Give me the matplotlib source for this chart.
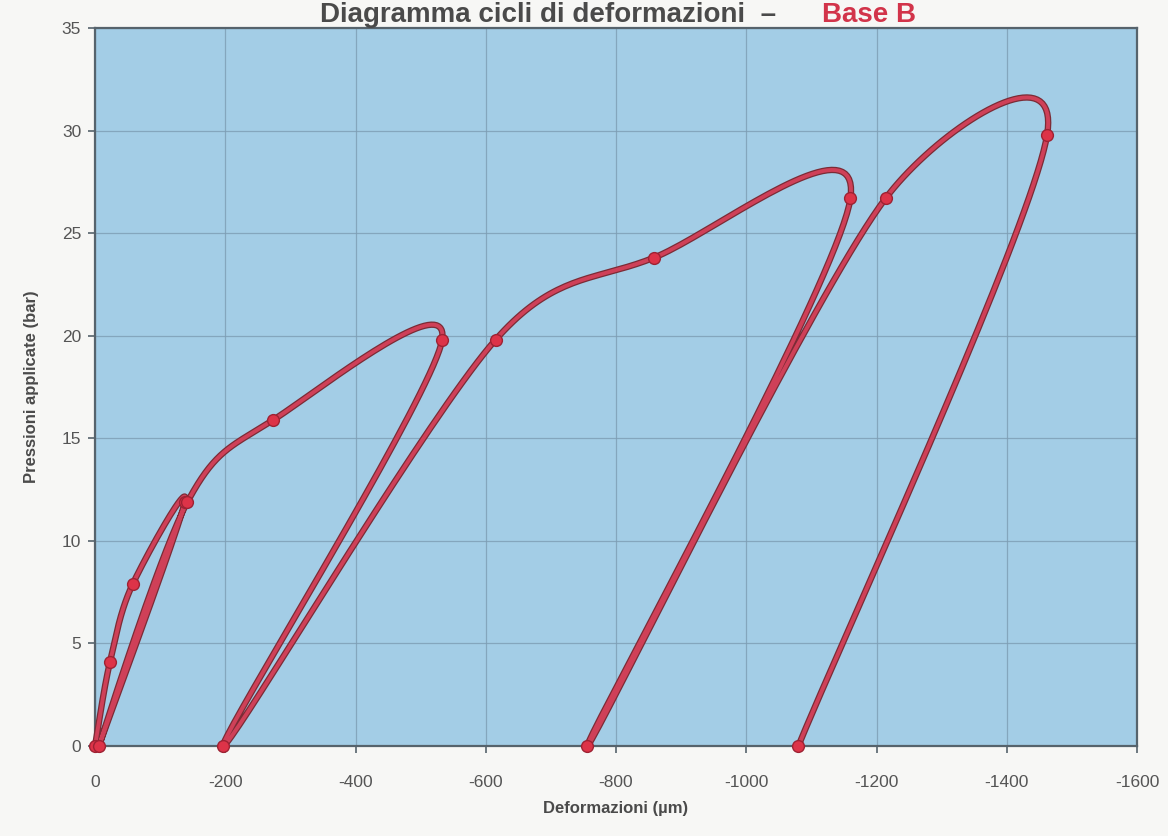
import numpy as np
import matplotlib
matplotlib.use("Agg")
import matplotlib.pyplot as plt

# Load / unload cycles of the plate test (deformation in µm, pressure in bar)
deformazioni = [0, -23, -58, -138, -6, -142, -274, -533, -197,
                -615, -858, -1160, -756, -1214, -1462, -1080]
pressioni = [0.0, 4.1, 7.9, 11.9, 0.0, 11.9, 15.9, 19.8, 0.0,
             19.8, 23.8, 26.7, 0.0, 26.7, 29.8, 0.0]

x_ticks = [0, -200, -400, -600, -800, -1000, -1200, -1400, -1600]
y_ticks = [0, 5, 10, 15, 20, 25, 30, 35]

plt.rcParams["font.family"] = ["Liberation Sans", "DejaVu Sans"]
plt.rcParams["axes.unicode_minus"] = False

W, H = 1168, 836
fig = plt.figure(figsize=(W / 100, H / 100), dpi=100, facecolor="#f7f7f5")
ax = fig.add_axes([95 / W, 1 - 746 / H, (1137 - 95) / W, (746 - 28) / H])
ax.set_facecolor("#a3cde6")

ax.set_xlim(0, -1600)
ax.set_ylim(0, 35)


def smooth_curve(ax, xs, ys, n=40):
    """Bezier smoothing in display space (Catmull-Rom style control points)."""
    pts = ax.transData.transform(np.column_stack([xs, ys]))
    out = []
    m = len(pts)
    for i in range(m - 1):
        p0 = pts[i - 1] if i > 0 else pts[i]
        p1 = pts[i]
        p2 = pts[i + 1]
        p3 = pts[i + 2] if i + 2 < m else pts[i + 1]
        seg = np.linalg.norm(p2 - p1)
        d1 = (p2 - p0) / 6.0
        d2 = (p3 - p1) / 6.0
        for d in (d1, d2):
            ln = np.linalg.norm(d)
            if ln > seg / 2 and ln > 0:
                d *= (seg / 2) / ln
        c1 = p1 + d1
        c2 = p2 - d2
        t = np.linspace(0, 1, n)[:, None]
        b = ((1 - t) ** 3) * p1 + 3 * ((1 - t) ** 2) * t * c1 \
            + 3 * (1 - t) * t ** 2 * c2 + t ** 3 * p2
        out.append(b if i == 0 else b[1:])
    out = np.vstack(out)
    return ax.transData.inverted().transform(out)


curve = smooth_curve(ax, deformazioni, pressioni)
ax.plot(curve[:, 0], curve[:, 1], color="#7b2b36", lw=4.6, solid_capstyle="round",
        zorder=3, clip_on=False)
ax.plot(curve[:, 0], curve[:, 1], color="#cf4058", lw=2.8, solid_capstyle="round",
        zorder=4, clip_on=False)
ax.plot(deformazioni, pressioni, linestyle="none", marker="o", markersize=8.5,
        markerfacecolor="#dd3348", markeredgecolor="#9e2233", markeredgewidth=1.0,
        zorder=5, clip_on=False)

ax.set_xticks(x_ticks)
ax.set_xticklabels([str(v) for v in x_ticks])
ax.set_yticks(y_ticks)
ax.grid(True, color="#7d9db3", lw=0.9, alpha=0.8)
ax.set_axisbelow(True)

for side in ["left", "bottom", "top", "right"]:
    ax.spines[side].set_color("#56636c")
    ax.spines[side].set_linewidth(1.6)

ax.tick_params(axis="both", colors="#56636c", length=5, width=1.2,
               labelcolor="#555555", labelsize=12.5)
ax.tick_params(axis="x", pad=16)
ax.tick_params(axis="y", pad=5)

ax.set_xlabel("Deformazioni (µm)", fontsize=12, fontweight="bold",
              color="#4a4a4a", labelpad=8)
ax.set_ylabel("Pressioni applicate (bar)", fontsize=12, fontweight="bold",
              color="#4a4a4a", labelpad=16)

# Title line above the plot area
fig.text(320 / W, 1 - 22 / H, "Diagramma cicli di deformazioni  –", fontsize=20,
         fontweight="bold", color="#4a4a4a", ha="left", va="baseline")
fig.text(822 / W, 1 - 22 / H, "Base B", fontsize=20, fontweight="bold",
         color="#d2344a", ha="left", va="baseline")

fig.savefig("out.png", dpi=100, facecolor=fig.get_facecolor())
